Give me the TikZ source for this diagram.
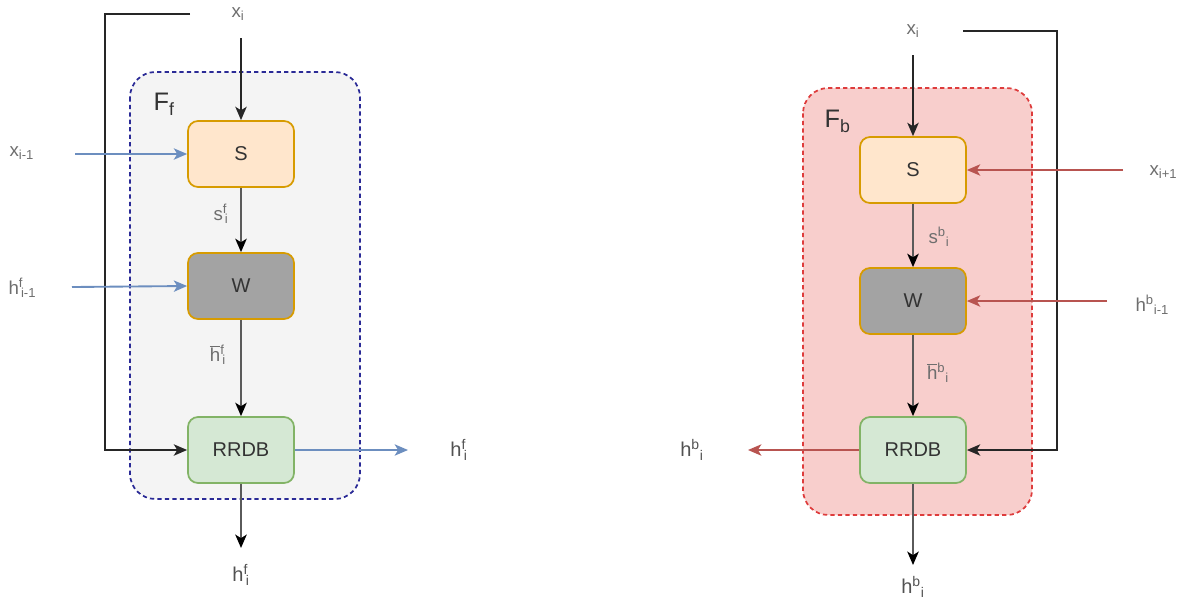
\documentclass[tikz,border=0pt]{standalone}
\usepackage{fontspec}
\setmainfont{Liberation Sans}
\usetikzlibrary{arrows.meta}

\definecolor{sfill}{HTML}{FFE6CC}
\definecolor{sline}{HTML}{D79B00}
\definecolor{wfill}{HTML}{A3A3A3}
\definecolor{rfill}{HTML}{D5E8D4}
\definecolor{rline}{HTML}{82B366}
\definecolor{bluearr}{HTML}{6C8EBF}
\definecolor{redarr}{HTML}{B85450}
\definecolor{fwdfill}{HTML}{F4F4F4}
\definecolor{fwdline}{HTML}{2A2A96}
\definecolor{bwdfill}{HTML}{F8CECC}
\definecolor{bwdline}{HTML}{DE3C3C}
\definecolor{txtdark}{HTML}{333333}
\definecolor{txtgray}{HTML}{6E6E6E}
\definecolor{shaft}{HTML}{5A5A5A}

% letter with a superscript and then a subscript
\newcommand\supsub[3]{#1\textsuperscript{#2}\textsubscript{#3}}
% letter with a superscript tucked close over a subscript
\newcommand\tight[3]{#1\textsuperscript{#2}\kern-0.12em\textsubscript{#3}}
% overlined letter
\newcommand\ovl[1]{\ensuremath{\overline{\mbox{#1}}}}

\begin{document}
\begin{tikzpicture}[x=0.75pt,y=-0.75pt,
  tip/.style={-{Stealth[length=10pt,width=8.5pt,inset=2.6pt]}},
  block/.style={rounded corners=7.5pt,minimum width=79.5pt,minimum height=49.5pt,
    inner sep=0pt,line width=1.3pt,font=\fontsize{15}{17}\selectfont,text=txtdark},
  sbox/.style={block,fill=sfill,draw=sline},
  wbox/.style={block,fill=wfill,draw=sline},
  rbox/.style={block,fill=rfill,draw=rline},
  lbl/.style={font=\fontsize{14}{16}\selectfont,text=txtgray,inner sep=1pt},
  hlbl/.style={font=\fontsize{15}{17}\selectfont,text=txtdark!85,inner sep=1pt},
  fb/.style={tip,line width=1.4pt,draw=black!85},
  flow/.style={-{Stealth[length=10pt,width=8.5pt,inset=2.6pt,color=black]},line width=2.2pt,draw=shaft},
  bluel/.style={tip,line width=1.4pt,draw=bluearr},
  redl/.style={tip,line width=1.4pt,draw=redarr},
  frame/.style={rounded corners=19pt,line width=1.3pt,dash pattern=on 3.2pt off 2.4pt}]
\useasboundingbox (0,0) rectangle (1195,601);

% ---------- forward cell ----------
\draw[frame,fill=fwdfill,draw=fwdline] (130,72) rectangle (360,499);
\node[font=\fontsize{19}{21}\selectfont,text=txtdark,anchor=west] (Ff) at (149,104) {F\textsubscript{f}};

\node[sbox] (S1) at (241,154) {S};
\node[wbox] (W1) at (241,286) {W};
\node[rbox] (R1) at (241,450) {RRDB};

\node[lbl] (x1) at (238,14) {x\textsubscript{i}};
\node[lbl,anchor=west] (xm1) at (8,153) {x\textsubscript{i-1}};
\node[lbl,anchor=west] (hm1) at (7,288) {\tight{h}{f}{i-1}};
\node[lbl] (s1) at (221,214) {\tight{s}{f}{i}};
\node[lbl] (hb1) at (218,355) {\tight{\ovl{h}}{f}{i}};
\node[hlbl] (ho1) at (459,450) {\tight{h}{f}{i}};
\node[hlbl] (hd1) at (241,575) {\tight{h}{f}{i}};

\coordinate (x1a) at (241,38);
\coordinate (fb1) at (190,14);
\coordinate (xm1a) at (75,154);
\coordinate (hm1a) at (72,287);
\coordinate (ho1a) at (408,450);
\coordinate (hd1a) at (241,548);

\draw[fb] (x1a) -- (S1.north);
\draw[fb] (fb1) -- (105,14) |- (R1.west);
\draw[bluel] (xm1a) -- (S1.west);
\draw[bluel] (hm1a) -- (W1.west);
\draw[flow] (S1.south) -- (W1.north);
\draw[flow] (W1.south) -- (R1.north);
\draw[bluel] (R1.east) -- (ho1a);
\draw[flow] (R1.south) -- (hd1a);

% ---------- backward cell ----------
\draw[frame,fill=bwdfill,draw=bwdline] (803,88) rectangle (1032,515);
\node[font=\fontsize{19}{21}\selectfont,text=txtdark,anchor=west] (Fb) at (820,121) {F\textsubscript{b}};

\node[sbox] (S2) at (913,170) {S};
\node[wbox] (W2) at (913,301) {W};
\node[rbox] (R2) at (913,450) {RRDB};

\node[lbl] (x2) at (913,31) {x\textsubscript{i}};
\node[lbl,anchor=west] (xp2) at (1148,172) {x\textsubscript{i+1}};
\node[lbl,anchor=west] (hm2) at (1134,305) {\supsub{h}{b}{i-1}};
\node[lbl] (s2) at (939,237) {\supsub{s}{b}{i}};
\node[lbl] (hb2) at (938,373) {\supsub{\ovl{h}}{b}{i}};
\node[hlbl] (ho2) at (692,450) {\supsub{h}{b}{i}};
\node[hlbl] (hd2) at (913,587) {\supsub{h}{b}{i}};

\coordinate (x2a) at (913,55);
\coordinate (fb2) at (963,31);
\coordinate (xp2a) at (1123,170);
\coordinate (hm2a) at (1107,301);
\coordinate (ho2a) at (748,450);
\coordinate (hd2a) at (913,565);

\draw[fb] (x2a) -- (S2.north);
\draw[fb] (fb2) -- (1057,31) |- (R2.east);
\draw[redl] (xp2a) -- (S2.east);
\draw[redl] (hm2a) -- (W2.east);
\draw[flow] (S2.south) -- (W2.north);
\draw[flow] (W2.south) -- (R2.north);
\draw[redl] (R2.west) -- (ho2a);
\draw[flow] (R2.south) -- (hd2a);
\end{tikzpicture}
\end{document}
